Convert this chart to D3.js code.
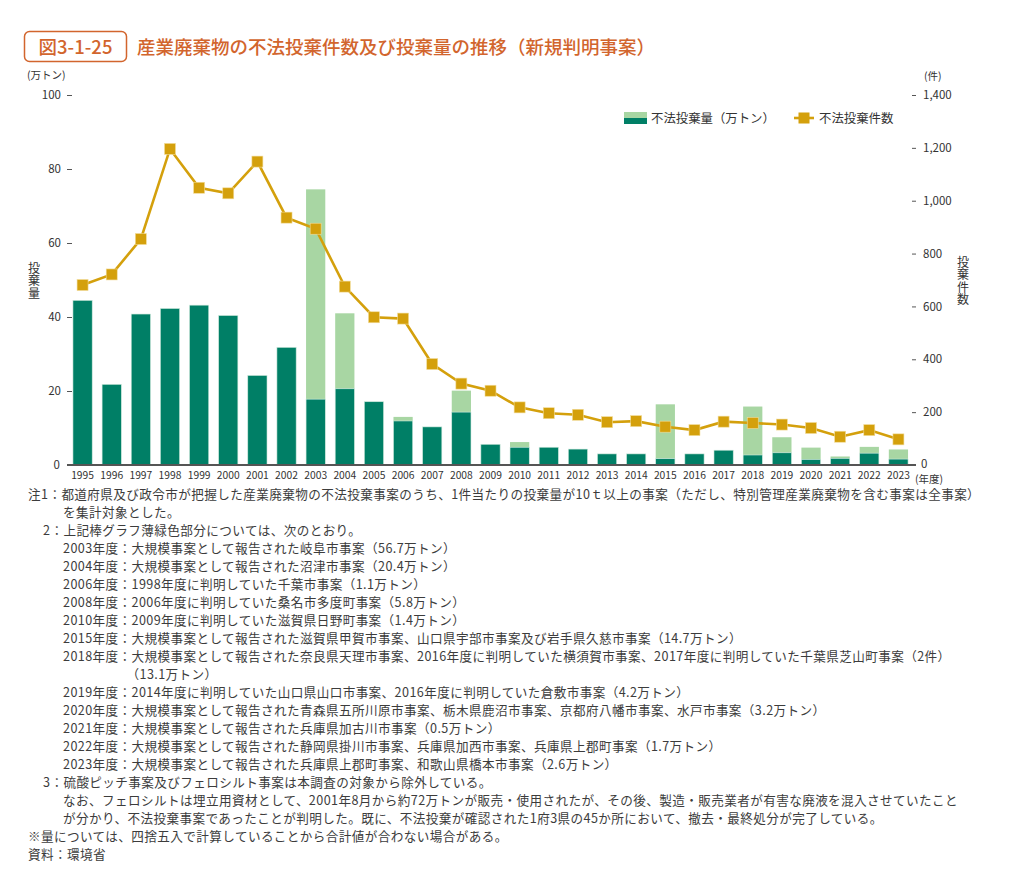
<!DOCTYPE html>
<html lang="ja">
<head>
<meta charset="utf-8">
<script src="https://cdn.jsdelivr.net/npm/d3@7.9.0/dist/d3.min.js"></script>
<style>
  body { margin: 0; background: #fff; }
  svg { display: block; font-family: "Noto Sans CJK JP", "Noto Sans", sans-serif; }
  .tick text { fill: #333; }
  .vtitle { writing-mode: vertical-rl; text-orientation: upright; }
</style>
</head>
<body>
<svg id="chart" width="1024" height="877"></svg>
<script>
// chart data
const years = ['1995','1996','1997','1998','1999','2000','2001','2002','2003','2004',
  '2005','2006','2007','2008','2009','2010','2011','2012','2013','2014',
  '2015','2016','2017','2018','2019','2020','2021','2022','2023'];
// 不法投棄量 (万トン): dark part, light-green part (from note 2)
const amountMain = [44.5, 21.8, 40.8, 42.3, 43.2, 40.4, 24.2, 31.8, 17.8, 20.6,
  17.1, 11.9, 10.3, 14.3, 5.6, 4.8, 4.8, 4.3, 3.0, 3.0,
  1.7, 3.0, 4.0, 2.7, 3.3, 1.5, 1.8, 3.2, 1.6];
const amountExtra = [0, 0, 0, 0, 0, 0, 0, 0, 56.7, 20.4,
  0, 1.1, 0, 5.8, 0, 1.4, 0, 0, 0, 0,
  14.7, 0, 0, 13.1, 4.2, 3.2, 0.5, 1.7, 2.6];
// 不法投棄件数
const cases = [681, 721, 855, 1196, 1049, 1028, 1148, 936, 894, 675,
  559, 554, 382, 308, 281, 218, 196, 190, 162, 166,
  145, 132, 164, 159, 153, 140, 107, 132, 97];
const leftTicks = [0, 20, 40, 60, 80, 100];
const rightTicks = [0, 200, 400, 600, 800, 1000, 1200, 1400];

const noteLines = [
  '注1：都道府県及び政令市が把握した産業廃棄物の不法投棄事案のうち、1件当たりの投棄量が10ｔ以上の事案（ただし、特別管理産業廃棄物を含む事案は全事案）',
  'を集計対象とした。',
  '2：上記棒グラフ薄緑色部分については、次のとおり。',
  '2003年度：大規模事案として報告された岐阜市事案（56.7万トン）',
  '2004年度：大規模事案として報告された沼津市事案（20.4万トン）',
  '2006年度：1998年度に判明していた千葉市事案（1.1万トン）',
  '2008年度：2006年度に判明していた桑名市多度町事案（5.8万トン）',
  '2010年度：2009年度に判明していた滋賀県日野町事案（1.4万トン）',
  '2015年度：大規模事案として報告された滋賀県甲賀市事案、山口県宇部市事案及び岩手県久慈市事案（14.7万トン）',
  '2018年度：大規模事案として報告された奈良県天理市事案、2016年度に判明していた横須賀市事案、2017年度に判明していた千葉県芝山町事案（2件）',
  '（13.1万トン）',
  '2019年度：2014年度に判明していた山口県山口市事案、2016年度に判明していた倉敷市事案（4.2万トン）',
  '2020年度：大規模事案として報告された青森県五所川原市事案、栃木県鹿沼市事案、京都府八幡市事案、水戸市事案（3.2万トン）',
  '2021年度：大規模事案として報告された兵庫県加古川市事案（0.5万トン）',
  '2022年度：大規模事案として報告された静岡県掛川市事案、兵庫県加西市事案、兵庫県上郡町事案（1.7万トン）',
  '2023年度：大規模事案として報告された兵庫県上郡町事案、和歌山県橋本市事案（2.6万トン）',
  '3：硫酸ピッチ事案及びフェロシルト事案は本調査の対象から除外している。',
  'なお、フェロシルトは埋立用資材として、2001年8月から約72万トンが販売・使用されたが、その後、製造・販売業者が有害な廃液を混入させていたこと',
  'が分かり、不法投棄事案であったことが判明した。既に、不法投棄が確認された1府3県の45か所において、撤去・最終処分が完了している。',
  '※量については、四捨五入で計算していることから合計値が合わない場合がある。',
  '資料：環境省'
];
// 0 = margin, 1 = note number, 2 = note body, 3 = continuation after "年度："
const noteIndent = [0, 2, 1, 2, 2, 2, 2, 2, 2, 2, 3, 2, 2, 2, 2, 2, 1, 2, 2, 0, 0];
const indentX = [28, 43, 63];

const colDark = '#007f66', colLight = '#a8d6a3', colLine = '#d4a00c', colTitle = '#d2652d';

const svg = d3.select('#chart');

/* title */
svg.append('rect').attr('x', 24.5).attr('y', 31.5).attr('width', 102).attr('height', 30)
  .attr('rx', 5).attr('fill', 'none').attr('stroke', colTitle).attr('stroke-width', 1.5);
svg.append('text').attr('x', 75.5).attr('y', 53.5).attr('text-anchor', 'middle')
  .attr('font-size', 18.5).attr('font-weight', 500).attr('fill', colTitle).text('図3-1-25');
svg.append('text').attr('x', 137).attr('y', 53.5)
  .attr('font-size', 18.5).attr('font-weight', 500).attr('fill', colTitle)
  .text('産業廃棄物の不法投棄件数及び投棄量の推移（新規判明事案）');

/* scales */
const x = d3.scaleBand().domain(years).range([68, 913]).paddingInner(0.34).paddingOuter(0.17);
const yL = d3.scaleLinear().domain([0, 100]).range([465, 95]);
const yR = d3.scaleLinear().domain([0, 1400]).range([465, 95]);

/* bars */
const barData = years.map((y, i) => ({ year: y, main: amountMain[i], extra: amountExtra[i] }));
const bars = svg.append('g');
bars.selectAll('rect.extra').data(barData.filter(d => d.extra > 0)).join('rect')
  .attr('class', 'extra')
  .attr('x', d => x(d.year)).attr('width', x.bandwidth())
  .attr('y', d => yL(d.main + d.extra)).attr('height', d => yL(d.main) - yL(d.main + d.extra))
  .attr('fill', colLight);
bars.selectAll('rect.main').data(barData).join('rect')
  .attr('class', 'main')
  .attr('x', d => x(d.year)).attr('width', x.bandwidth())
  .attr('y', d => yL(d.main)).attr('height', d => yL(0) - yL(d.main))
  .attr('fill', colDark).attr('stroke', '#cfe9dd').attr('stroke-width', 0.6);

/* axes */
const axL = svg.append('g').attr('transform', 'translate(67,0)')
  .call(d3.axisLeft(yL).tickValues(leftTicks.filter(v => v > 0)).tickSize(-5).tickPadding(6));
axL.select('.domain').remove();
axL.selectAll('.tick line').attr('stroke', '#555');
axL.selectAll('.tick text').attr('font-size', 11.5).attr('font-family', '"Noto Sans CJK JP"');
svg.append('text').attr('x', 60).attr('y', 468.5).attr('text-anchor', 'end')
  .attr('font-size', 11.5).attr('fill', '#333').text(leftTicks[0]);

const axR = svg.append('g').attr('transform', 'translate(912,0)')
  .call(d3.axisRight(yR).tickValues(rightTicks.filter(v => v > 0)).tickSize(4).tickPadding(7)
    .tickFormat(d3.format(',')));
axR.select('.domain').remove();
axR.selectAll('.tick line').attr('stroke', '#555');
axR.selectAll('.tick text').attr('font-size', 11.5).attr('font-family', '"Noto Sans CJK JP"');
svg.append('text').attr('x', 921).attr('y', 467.5)
  .attr('font-size', 11.5).attr('fill', '#333').text(rightTicks[0]);

const axB = svg.append('g').attr('transform', 'translate(0,465)')
  .call(d3.axisBottom(x).tickSize(0).tickPadding(7));
axB.select('.domain').attr('d', 'M67,0H916').attr('stroke', '#555').attr('stroke-width', 2);
axB.selectAll('.tick text').attr('font-size', 10.3).attr('font-family', '"Noto Sans CJK JP"');
svg.append('text').attr('x', 915).attr('y', 483).attr('font-size', 10.5).attr('fill', '#333').text('(年度)');

/* unit labels and axis titles */
svg.append('text').attr('x', 27).attr('y', 79).attr('font-size', 10.5).attr('fill', '#333').text('(万トン)');
svg.append('text').attr('x', 924).attr('y', 80).attr('font-size', 10.5).attr('fill', '#333').text('(件)');
svg.append('text').attr('class', 'vtitle').attr('x', 34).attr('y', 262)
  .attr('font-size', 12).attr('letter-spacing', 0.6).attr('fill', '#333').text('投棄量');
svg.append('text').attr('class', 'vtitle').attr('x', 963).attr('y', 256)
  .attr('font-size', 12).attr('letter-spacing', 0.6).attr('fill', '#333').text('投棄件数');

/* line */
const line = d3.line().x((d, i) => x(years[i]) + x.bandwidth() / 2).y(d => yR(d));
svg.append('path').datum(cases).attr('d', line)
  .attr('fill', 'none').attr('stroke', colLine).attr('stroke-width', 2.6);
svg.append('g').selectAll('rect').data(cases).join('rect')
  .attr('x', (d, i) => x(years[i]) + x.bandwidth() / 2 - 5.5)
  .attr('y', d => yR(d) - 5.5)
  .attr('width', 11).attr('height', 11)
  .attr('fill', colLine).attr('stroke', '#f2dc9a').attr('stroke-width', 0.6);

/* legend */
const lg = svg.append('g').attr('transform', 'translate(624,112)');
lg.append('rect').attr('x', 0).attr('y', 0).attr('width', 23).attr('height', 6).attr('fill', colLight);
lg.append('rect').attr('x', 0).attr('y', 6).attr('width', 23).attr('height', 6).attr('fill', colDark);
lg.append('text').attr('x', 27).attr('y', 11).attr('font-size', 12.4).attr('fill', '#333').text('不法投棄量（万トン）');
lg.append('line').attr('x1', 170).attr('x2', 190).attr('y1', 6).attr('y2', 6)
  .attr('stroke', colLine).attr('stroke-width', 2.6);
lg.append('rect').attr('x', 174.5).attr('y', 0.5).attr('width', 11).attr('height', 11).attr('fill', colLine);
lg.append('text').attr('x', 195).attr('y', 11).attr('font-size', 12.4).attr('fill', '#333').text('不法投棄件数');

/* notes */
const notes = svg.append('g');
const noteText = notes.selectAll('text').data(noteLines).join('text')
  .attr('x', (d, i) => indentX[Math.min(noteIndent[i], 2)])
  .attr('y', (d, i) => 499 + i * 18)
  .attr('font-size', 12.6).attr('letter-spacing', 0.4).attr('fill', '#3c3c3c')
  .text(d => d);
// continuation line lines up under the text after "2018年度："
const probe = notes.append('text').attr('font-size', 12.6).attr('letter-spacing', 0.4).text('2018年度：');
const prefixW = probe.node().getComputedTextLength();
probe.remove();
noteText.filter((d, i) => noteIndent[i] === 3).attr('x', indentX[2] + prefixW - 5);
</script>
</body>
</html>
